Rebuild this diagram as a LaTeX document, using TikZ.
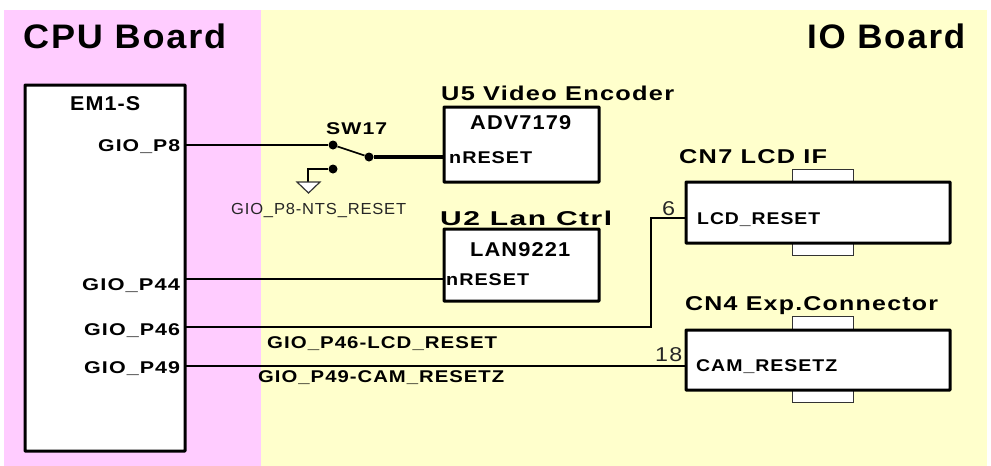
\documentclass[tikz,border=0pt]{standalone}
\usepackage{graphicx}
\usepackage{fontspec}
\setmainfont[LetterSpace=5]{Liberation Sans}
\definecolor{pinkbg}{RGB}{255,204,255}
\definecolor{yellowbg}{RGB}{255,255,204}
\newcommand{\fitw}[2]{\resizebox{#1pt}{\height}{#2}}
\tikzset{
 x=1pt,y=-1pt,
 box/.style={draw=black,line width=3pt,fill=white,rounded corners=0.5pt},
 tab/.style={draw=black!80,line width=1pt,fill=white},
 title/.style={font=\bfseries\fontsize{34}{35}\selectfont,inner sep=0,text=black,anchor=base west},
 head/.style={font=\bfseries\fontsize{20}{21}\selectfont,inner sep=0,anchor=base west},
 port/.style={font=\bfseries\fontsize{17}{18}\selectfont,inner sep=0,anchor=base west},
 thin label/.style={font=\fontsize{16}{17}\selectfont,inner sep=0,anchor=base west,text=black!85},
 pin num/.style={font=\fontsize{20}{20}\selectfont,inner sep=0,anchor=base west,text=black!85},
 wire/.style={draw=black,line width=1.7pt},
 dot/.style={circle,fill=black,inner sep=0,minimum size=9pt},
}
\begin{document}
\begin{tikzpicture}
\useasboundingbox (0,0) rectangle (991,466);
\fill[pinkbg] (4,10) rectangle (261,466);
\fill[yellowbg] (261,10) rectangle (987,466);
\node[title] (cpu) at (23,48) {\fitw{203}{CPU Board}};
\node[title] (io) at (807,48) {\fitw{158}{IO Board}};
% boxes
\draw[box] (25,85) rectangle (185,451);
\coordinate (p8) at (185,145);
\coordinate (p44) at (185,279);
\coordinate (p46) at (185,327);
\coordinate (p49) at (185,366);
\draw[box] (444,107) rectangle (599,182);
\draw[box] (444,229) rectangle (599,301);
\draw[tab] (792,169) rectangle (853,182);
\draw[tab] (792,243) rectangle (853,255);
\draw[box] (686,182) rectangle (950,243);
\draw[tab] (792,316) rectangle (853,330);
\draw[tab] (792,390) rectangle (853,402);
\draw[box] (686,330) rectangle (950,390);
\coordinate (u5r) at (444,157);
\coordinate (u2r) at (444,279);
\coordinate (lcd) at (686,218);
\coordinate (cam) at (686,366);
% labels
\node[head] (em) at (70,110) {\fitw{70}{EM1-S}};
\node[port] (l8) at (98,151) {\fitw{82}{GIO\_P8}};
\node[port] (l44) at (82,290) {\fitw{98}{GIO\_P44}};
\node[port] (l46) at (84,335) {\fitw{96}{GIO\_P46}};
\node[port] (l49) at (84,373) {\fitw{96}{GIO\_P49}};
\node[head] (u5) at (441,100) {\fitw{233}{U5 Video Encoder}};
\node[head] (adv) at (470,129) {\fitw{101}{ADV7179}};
\node[port] (n1) at (449,163) {\fitw{83}{nRESET}};
\node[head] (u2) at (440,225) {\fitw{172}{U2 Lan Ctrl}};
\node[head] (lan) at (470,256) {\fitw{100}{LAN9221}};
\node[port] (n2) at (446,285) {\fitw{83}{nRESET}};
\node[head] (cn7) at (679,163) {\fitw{148}{CN7 LCD IF}};
\node[port] (lr) at (697,224) {\fitw{123}{LCD\_RESET}};
\node[head] (cn4) at (685,310) {\fitw{253}{CN4 Exp.Connector}};
\node[port] (cr) at (696,371) {\fitw{141}{CAM\_RESETZ}};
\node[port] (sw) at (326,134) {\fitw{61}{SW17}};
\node[thin label] (nts) at (231,214) {\fitw{175}{GIO\_P8-NTS\_RESET}};
\node[port] (w46) at (267,348) {\fitw{230}{GIO\_P46-LCD\_RESET}};
\node[port] (w49) at (258,382) {\fitw{246}{GIO\_P49-CAM\_RESETZ}};
\node[pin num] (six) at (662,215) {\fitw{13}{6}};
\node[pin num] (e18) at (655,361) {\fitw{27}{18}};
% switch
\node[dot] (sa) at (333,145) {};
\node[dot] (sb) at (369,157) {};
\node[dot] (sc) at (333,169) {};
\draw[wire] (p8) -- (sa);
\draw[wire] (sa) -- (sb);
\draw[draw=black,line width=4pt] (sb) -- (u5r);
\coordinate (gt) at (308,169);
\coordinate (gb) at (308,182);
\draw[wire] (sc) -- (gt) -- (gb);
\draw[draw=black!80,line width=1.2pt,fill=white] (297,182) -- (320,182) -- (308.5,193) -- cycle;
\draw[wire] (p44) -- (u2r);
\coordinate (b1) at (651,327);
\coordinate (b2) at (651,218);
\draw[wire] (p46) -- (b1) -- (b2) -- (lcd);
\draw[wire] (p49) -- (cam);
\end{tikzpicture}
\end{document}
